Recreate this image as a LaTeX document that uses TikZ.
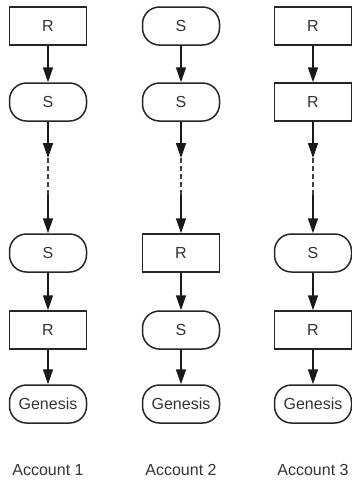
\documentclass[tikz,border=0pt]{standalone}
\usepackage{fontspec}
\setmainfont{Liberation Sans}
\usetikzlibrary{arrows.meta}
\begin{document}
\begin{tikzpicture}[x=1pt,y=-1pt,
  base/.style={draw=black!85, line width=1.5pt, minimum width=77pt, minimum height=38pt,
    inner sep=0pt, text=black!80, font=\fontsize{16}{19}\selectfont},
  rbox/.style={base, rectangle},
  sbox/.style={base, rounded corners=17pt},
  conn/.style={line width=1.5pt, draw=black!90, -{Triangle[length=15pt,width=10pt]}},
  dconn/.style={line width=1.5pt, draw=black!75, dash pattern=on 5pt off 3pt},
  lab/.style={text=black!80, font=\fontsize{16}{19}\selectfont}]
\useasboundingbox (0,0) rectangle (352,483);
% column 1
\node[rbox] (a1) at (48,26) {R};
\node[sbox] (a2) at (48,102) {S};
\node[sbox] (a3) at (48,253) {S};
\node[rbox] (a4) at (48,330) {R};
\node[sbox] (a5) at (48,404) {Genesis};
\node[lab] (la) at (48,470) {Account 1};
\coordinate (ap) at (48,158);
\coordinate (aq) at (48,195);
% column 2
\node[sbox] (b1) at (181,26) {S};
\node[sbox] (b2) at (181,102) {S};
\node[rbox] (b3) at (181,253) {R};
\node[sbox] (b4) at (181,330) {S};
\node[sbox] (b5) at (181,404) {Genesis};
\node[lab] (lb) at (181,470) {Account 2};
\coordinate (bp) at (181,158);
\coordinate (bq) at (181,195);
% column 3
\node[rbox] (c1) at (313,26) {R};
\node[rbox] (c2) at (313,102) {R};
\node[sbox] (c3) at (313,253) {S};
\node[rbox] (c4) at (313,330) {R};
\node[sbox] (c5) at (313,404) {Genesis};
\node[lab] (lc) at (313,470) {Account 3};
\coordinate (cp) at (313,158);
\coordinate (cq) at (313,195);
% connectors
\foreach \c in {a,b,c}{
  \draw[conn] (\c1) -- (\c2);
  \draw[conn] (\c2) -- (\c p);
  \draw[dconn] (\c p) -- (\c q);
  \draw[conn] (\c q) -- (\c3);
  \draw[conn] (\c3) -- (\c4);
  \draw[conn] (\c4) -- (\c5);
}
\end{tikzpicture}
\end{document}
